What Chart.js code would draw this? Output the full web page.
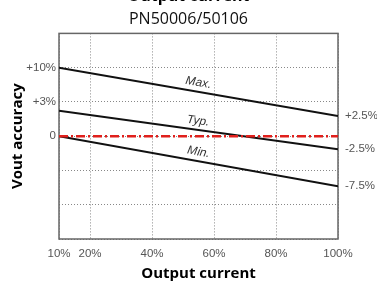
<!DOCTYPE html>
<html>
<head>
<meta charset="utf-8">
<script src="https://cdn.jsdelivr.net/npm/chart.js@4.4.1/dist/chart.umd.min.js"></script>
<style>
  html, body { margin: 0; padding: 0; background: #fff; overflow: hidden; }
  #wrap { position: absolute; left: 0; top: -14px; width: 377px; height: 298px; }
</style>
</head>
<body>
<div id="wrap"><canvas id="chart"></canvas></div>
<script>
// output current (%) at the two ends of each curve
const loadX = [10, 100];
// y values are in grid steps: 0 = "0", 1 = "+3%", 2 = "+10%"
const maxLine = [2.0, 0.59];
const typLine = [0.74, -0.38];
const minLine = [0.0, -1.46];
const zeroLine = [0, 0];
const xTicks = [10, 20, 40, 60, 80, 100];
const yTickLabels = { 0: "0", 1: "+3%", 2: "+10%" };
const endLabels = ["+2.5%", "-2.5%", "-7.5%"];
const curveNames = ["Max.", "Typ.", "Min."];
const labelAtX = 54.5;

const curves = [maxLine, typLine, minLine];
const pts = (ys) => ys.map((y, i) => ({ x: loadX[i], y: y }));
const tickFont = { family: "Liberation Sans", size: 11.5 };

const framePlugin = {
  id: "frame",
  beforeDatasetsDraw(chart) {
    const a = chart.chartArea;
    const ctx = chart.ctx;
    ctx.save();
    ctx.strokeStyle = "#666";
    ctx.lineWidth = 1.5;
    ctx.strokeRect(a.left, a.top, a.right - a.left, a.bottom - a.top);
    ctx.restore();
  }
};

const namePlugin = {
  id: "curveNames",
  afterDatasetsDraw(chart) {
    const xs = chart.scales.x, ys = chart.scales.y;
    const ctx = chart.ctx;
    curves.forEach((c, i) => {
      const t = (labelAtX - loadX[0]) / (loadX[1] - loadX[0]);
      const yv = c[0] + (c[1] - c[0]) * t;
      const px = xs.getPixelForValue(labelAtX), py = ys.getPixelForValue(yv);
      const ang = Math.atan2(ys.getPixelForValue(c[1]) - ys.getPixelForValue(c[0]),
        xs.getPixelForValue(loadX[1]) - xs.getPixelForValue(loadX[0]));
      ctx.save();
      ctx.translate(px, py);
      ctx.rotate(ang);
      ctx.font = "italic 12px 'Liberation Sans'";
      ctx.fillStyle = "#333";
      ctx.textAlign = "center";
      ctx.textBaseline = "middle";
      ctx.fillText(curveNames[i], 0, -9);
      ctx.restore();
    });
  }
};

new Chart(document.getElementById("chart"), {
  type: "line",
  data: {
    datasets: [
      { data: pts(zeroLine), borderColor: "#e0201c", borderWidth: 2.5, borderDash: [9, 3, 2, 3] },
      { data: pts(maxLine), borderColor: "#111", borderWidth: 2 },
      { data: pts(typLine), borderColor: "#111", borderWidth: 2 },
      { data: pts(minLine), borderColor: "#111", borderWidth: 2 }
    ]
  },
  options: {
    responsive: true,
    maintainAspectRatio: false,
    animation: false,
    elements: { point: { radius: 0 }, line: { tension: 0 } },
    layout: { padding: 0 },
    plugins: {
      legend: { display: false },
      tooltip: { enabled: false },
      title: {
        display: true,
        text: "Output current",
        color: "#000",
        font: { family: "Open Sans", size: 16, weight: "bold" },
        padding: { top: 1, bottom: 0 }
      },
      subtitle: {
        display: true,
        text: "PN50006/50106",
        color: "#111",
        font: { family: "Open Sans", size: 16 },
        padding: { top: 4, bottom: 4 }
      }
    },
    scales: {
      x: {
        type: "linear",
        min: 10,
        max: 100,
        afterBuildTicks: (s) => { s.ticks = xTicks.map(v => ({ value: v })); },
        afterFit: (s) => { s.height = 45; },
        ticks: { callback: (v) => v + "%", color: "#555", font: tickFont, padding: 8, autoSkip: false, maxRotation: 0 },
        grid: { color: "#888", lineWidth: 1, drawTicks: false },
        border: { display: false, dash: [1, 2] },
        title: {
          display: true,
          text: "Output current",
          color: "#000",
          font: { family: "Open Sans", size: 15, weight: "bold" },
          padding: { top: 0, bottom: 1 }
        }
      },
      y: {
        min: -3,
        max: 3,
        afterFit: (s) => { s.width = 59; },
        ticks: { stepSize: 1, callback: (v) => yTickLabels[v] ?? "", color: "#555", font: tickFont, padding: 3 },
        grid: { color: "#888", lineWidth: 1, drawTicks: false },
        border: { display: false, dash: [1, 2] },
        title: {
          display: true,
          text: "Vout accuracy",
          color: "#000",
          font: { family: "Open Sans", size: 15, weight: "bold" },
          padding: { top: 9, bottom: 0 }
        }
      },
      y2: {
        position: "right",
        min: -3,
        max: 3,
        afterBuildTicks: (s) => { s.ticks = curves.map(c => ({ value: c[1] })); },
        afterFit: (s) => { s.width = 39; },
        ticks: { callback: (v, i) => endLabels[i], color: "#555", font: tickFont, padding: 7 },
        grid: { display: false, drawTicks: false },
        border: { display: false }
      }
    }
  },
  plugins: [framePlugin, namePlugin]
});
</script>
</body>
</html>
